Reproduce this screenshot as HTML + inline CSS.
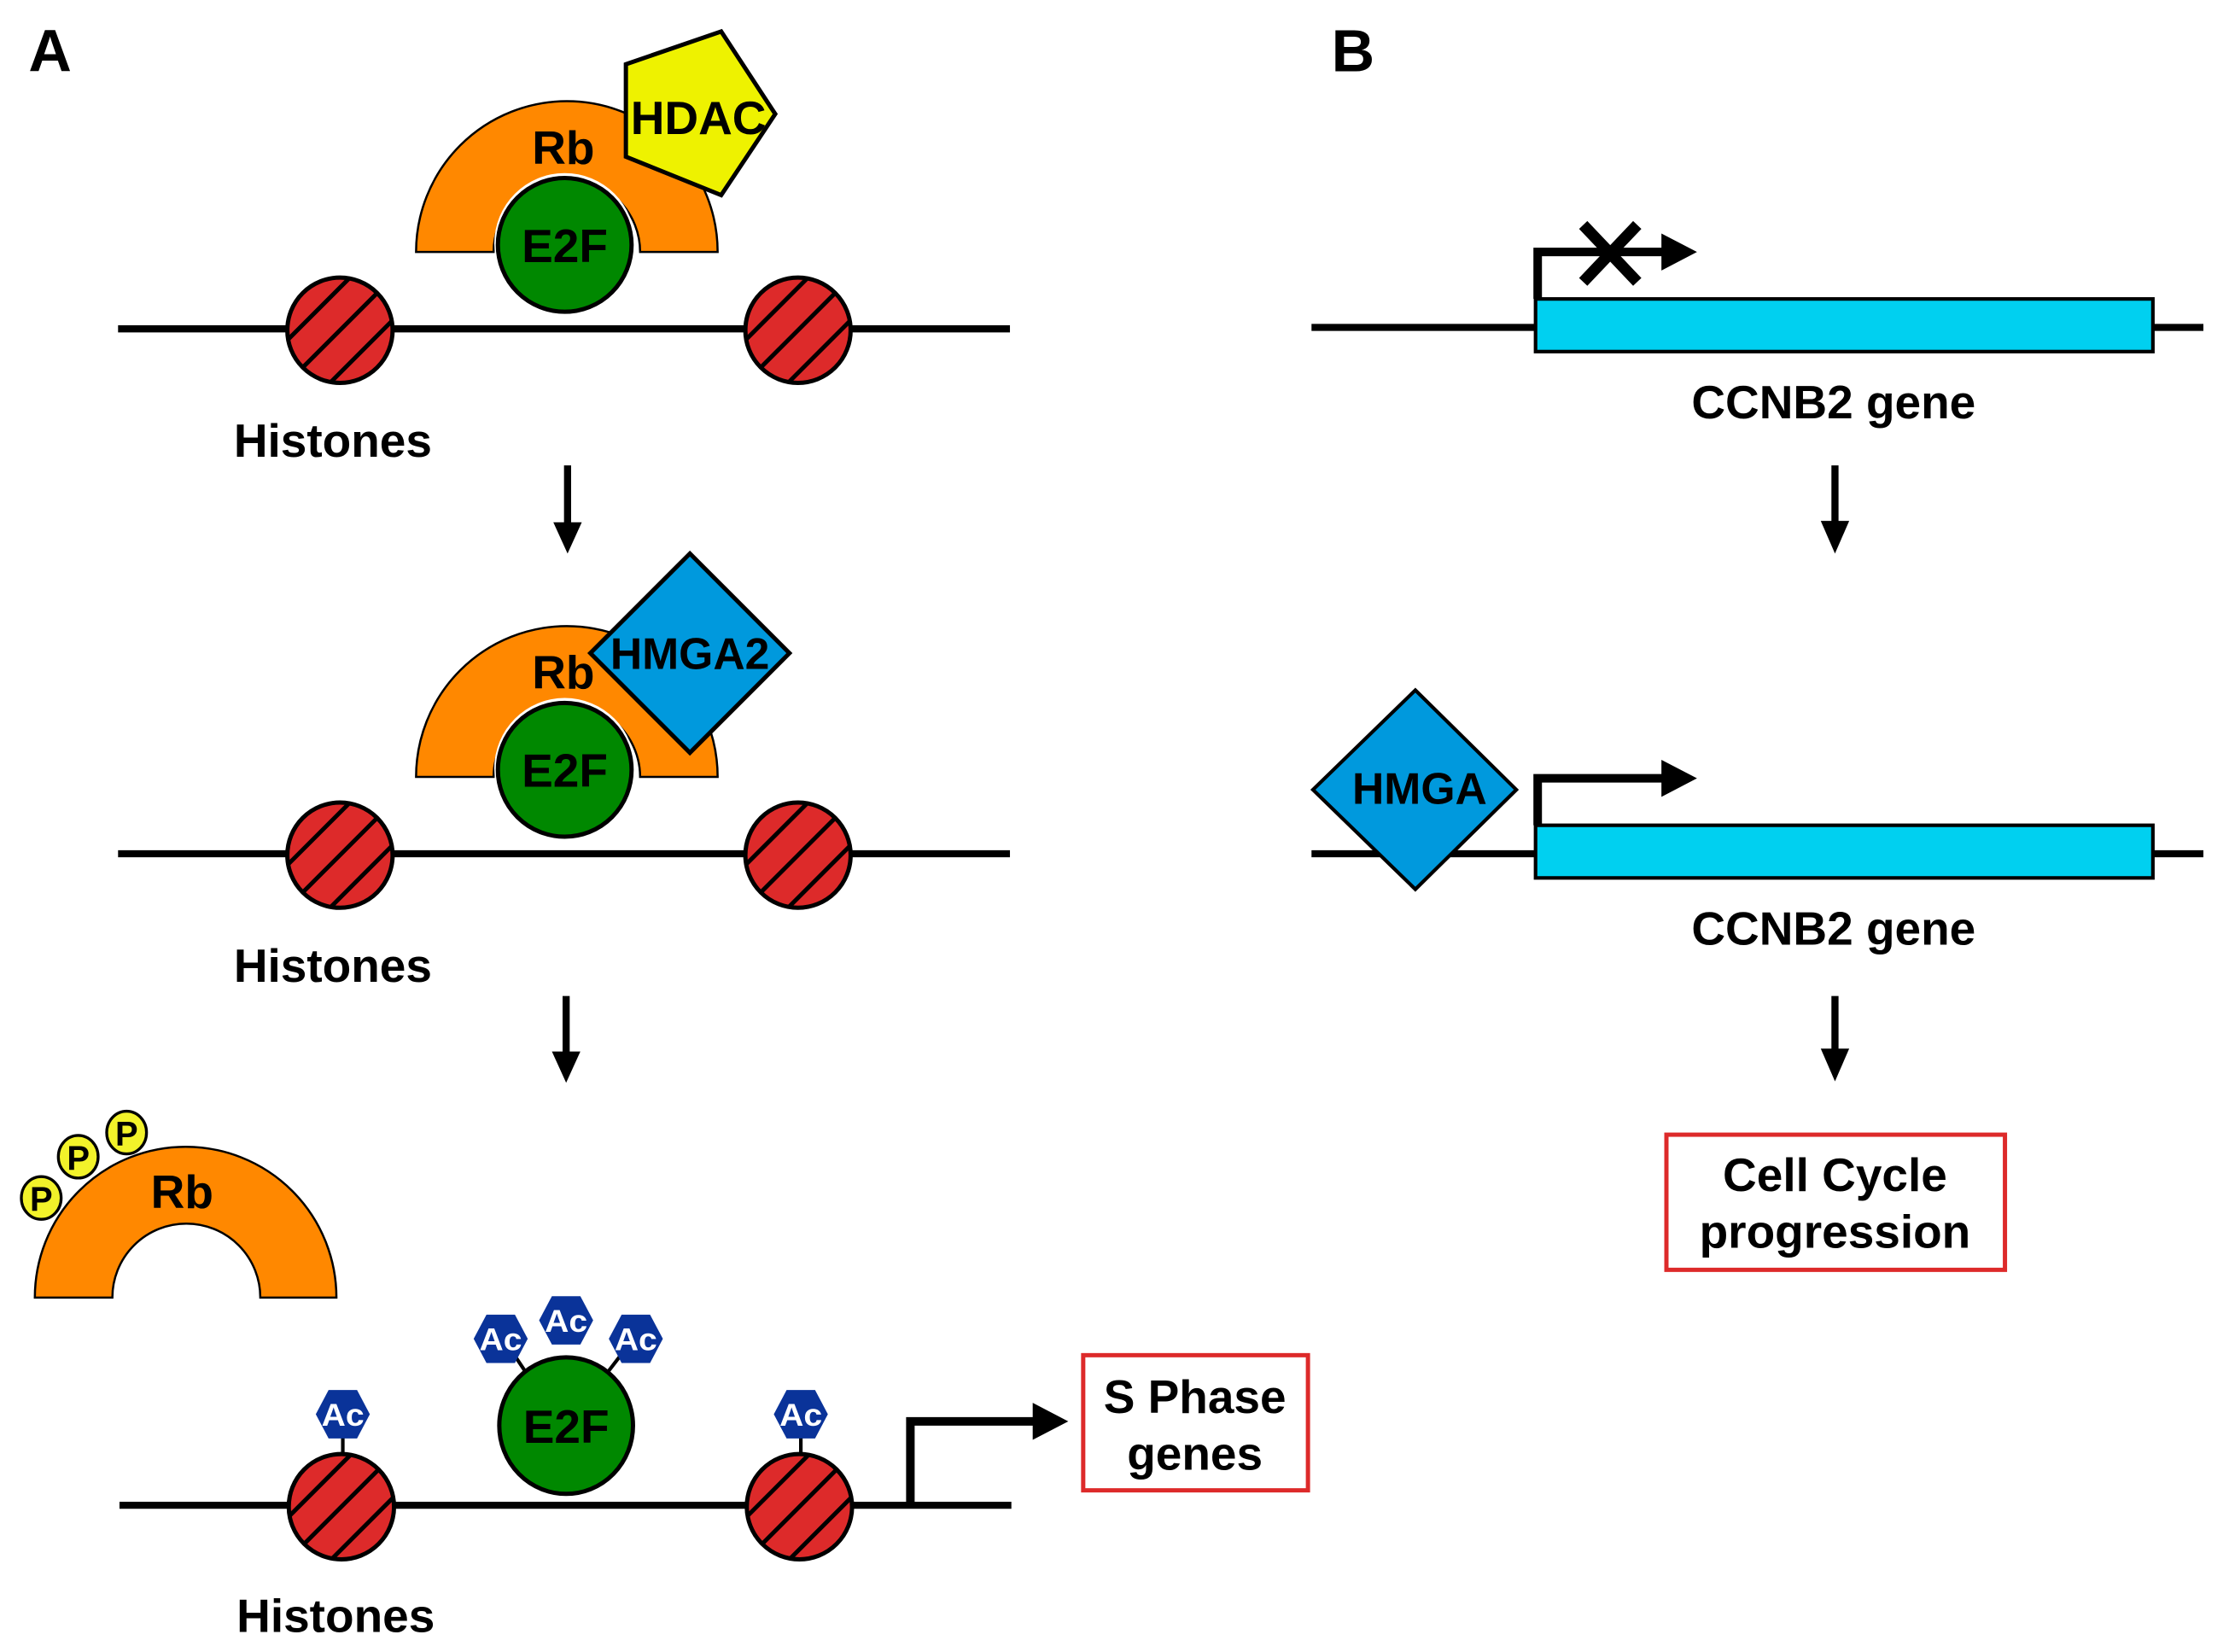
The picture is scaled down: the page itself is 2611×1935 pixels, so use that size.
<!DOCTYPE html>
<html><head><meta charset="utf-8"><style>
html,body{margin:0;padding:0;background:#fff;}
svg{display:block;}
text{font-family:"Liberation Sans",Arial,sans-serif;font-weight:bold;}
</style></head><body>
<svg width="2611" height="1935" viewBox="0 0 1567 1161" xmlns="http://www.w3.org/2000/svg">
<defs>
<clipPath id="hc"><ellipse cx="0" cy="0" rx="37" ry="37"/></clipPath>
<g id="hist">
<ellipse cx="0" cy="0" rx="37" ry="37" fill="#DD2A2A"/>
<g clip-path="url(#hc)" stroke="#000" stroke-width="3">
<line x1="-50" y1="20" x2="20" y2="-50"/>
<line x1="-40" y1="40" x2="40" y2="-40"/>
<line x1="-20" y1="50" x2="50" y2="-20"/>
</g>
<ellipse cx="0" cy="0" rx="37" ry="37" fill="none" stroke="#000" stroke-width="3"/>
</g>
<g id="ac">
<polygon points="-19,0 -10,-17 10,-17 19,0 10,17 -10,17" fill="#0A3399"/>
<text x="0" y="8" font-size="22" fill="#fff" text-anchor="middle" textLength="30" lengthAdjust="spacingAndGlyphs">Ac</text>
</g>
<g id="pp">
<ellipse cx="0" cy="0" rx="14" ry="15" fill="#F2F22A" stroke="#000" stroke-width="2"/>
<text x="0" y="9" font-size="24" fill="#000" text-anchor="middle">P</text>
</g>
</defs>

<text x="20" y="50" font-size="42">A</text>
<text x="936" y="50" font-size="42">B</text>

<!-- Row 1 A -->
<line x1="83" y1="231" x2="710" y2="231" stroke="#000" stroke-width="5"/>
<use href="#hist" x="239" y="232"/>
<use href="#hist" x="561" y="232"/>
<path d="M292.5,177 A106,106 0 0 1 504.5,177 L450,177 A51,51 0 0 0 347,177 Z" fill="#FF8800" stroke="#000" stroke-width="1.5"/>
<circle cx="397" cy="171" r="49.5" fill="#fff"/>
<circle cx="397" cy="172" r="47" fill="#008800" stroke="#000" stroke-width="3"/>
<text x="396" y="115" font-size="33" text-anchor="middle">Rb</text>
<text x="397" y="184" font-size="33" text-anchor="middle">E2F</text>
<polygon points="440,45 507,22 545,80 507,137 440,110" fill="#EEF200" stroke="#000" stroke-width="3"/>
<text x="491" y="94" font-size="33" text-anchor="middle">HDAC</text>
<text x="234" y="321" font-size="33" text-anchor="middle">Histones</text>
<line x1="399" y1="327" x2="399" y2="370" stroke="#000" stroke-width="5"/>
<polygon points="389,367 409,367 399,389"/>

<!-- Row 2 A -->
<line x1="83" y1="600" x2="710" y2="600" stroke="#000" stroke-width="5"/>
<use href="#hist" x="239" y="601"/>
<use href="#hist" x="561" y="601"/>
<path d="M292.5,546 A106,106 0 0 1 504.5,546 L450,546 A51,51 0 0 0 347,546 Z" fill="#FF8800" stroke="#000" stroke-width="1.5"/>
<circle cx="397" cy="540" r="49.5" fill="#fff"/>
<circle cx="397" cy="541" r="47" fill="#008800" stroke="#000" stroke-width="3"/>
<text x="396" y="484" font-size="33" text-anchor="middle">Rb</text>
<text x="397" y="553" font-size="33" text-anchor="middle">E2F</text>
<polygon points="485,389 555,459 485,529 415,459" fill="#0099DD" stroke="#000" stroke-width="3"/>
<text x="485" y="470" font-size="31" text-anchor="middle">HMGA2</text>
<text x="234" y="690" font-size="33" text-anchor="middle">Histones</text>
<line x1="398" y1="700" x2="398" y2="742" stroke="#000" stroke-width="5"/>
<polygon points="388,739 408,739 398,761"/>

<!-- Row 3 A -->
<path d="M24.5,912 A106,106 0 0 1 236.5,912 L183,912 A52,52 0 0 0 79,912 Z" fill="#FF8800" stroke="#000" stroke-width="1.5"/>
<text x="128" y="849" font-size="33" text-anchor="middle">Rb</text>
<use href="#pp" x="29" y="842"/>
<use href="#pp" x="55" y="813"/>
<use href="#pp" x="89" y="796"/>
<line x1="84" y1="1058" x2="711" y2="1058" stroke="#000" stroke-width="5"/>
<line x1="241" y1="1000" x2="241" y2="1022" stroke="#000" stroke-width="2.5"/>
<line x1="563" y1="1000" x2="563" y2="1022" stroke="#000" stroke-width="2.5"/>
<use href="#hist" x="240" y="1059"/>
<use href="#hist" x="562" y="1059"/>
<line x1="362" y1="953" x2="372" y2="968" stroke="#000" stroke-width="2.5"/>
<line x1="436" y1="953" x2="426" y2="966" stroke="#000" stroke-width="2.5"/>
<ellipse cx="398" cy="1002" rx="47" ry="48" fill="#008800" stroke="#000" stroke-width="3"/>
<text x="398" y="1014" font-size="33" text-anchor="middle">E2F</text>
<use href="#ac" x="352" y="941"/>
<use href="#ac" x="398" y="928"/>
<use href="#ac" x="447" y="941"/>
<use href="#ac" x="241" y="994"/>
<use href="#ac" x="563" y="994"/>
<polyline points="640,1058 640,999 730,999" fill="none" stroke="#000" stroke-width="6"/>
<polygon points="726,986 751,999 726,1012"/>
<rect x="761.5" y="952.5" width="158" height="95" fill="none" stroke="#DD2A2A" stroke-width="3"/>
<text x="840" y="993" font-size="33" text-anchor="middle">S Phase</text>
<text x="840" y="1033" font-size="33" text-anchor="middle">genes</text>
<text x="236" y="1147" font-size="33" text-anchor="middle">Histones</text>

<!-- Panel B row 1 -->
<line x1="922" y1="230" x2="1080" y2="230" stroke="#000" stroke-width="5"/>
<line x1="1514" y1="230" x2="1549" y2="230" stroke="#000" stroke-width="5"/>
<rect x="1079.5" y="210" width="434" height="37" fill="#00D0F0" stroke="#000" stroke-width="2.5"/>
<polyline points="1081,210 1081,177 1172,177" fill="none" stroke="#000" stroke-width="6"/>
<polygon points="1168,164 1193,177 1168,190"/>
<line x1="1113" y1="158" x2="1151" y2="198" stroke="#000" stroke-width="8"/>
<line x1="1151" y1="158" x2="1113" y2="198" stroke="#000" stroke-width="8"/>
<text x="1289" y="294" font-size="33" text-anchor="middle">CCNB2 gene</text>
<line x1="1290" y1="327" x2="1290" y2="369" stroke="#000" stroke-width="5"/>
<polygon points="1280,366 1300,366 1290,389"/>

<!-- Panel B row 2 -->
<line x1="922" y1="600" x2="1080" y2="600" stroke="#000" stroke-width="5"/>
<line x1="1514" y1="600" x2="1549" y2="600" stroke="#000" stroke-width="5"/>
<polygon points="995,485 1066,555 995,625 923,555" fill="#0099DD" stroke="#000" stroke-width="2.5"/>
<text x="998" y="565" font-size="31" text-anchor="middle">HMGA</text>
<rect x="1079.5" y="580" width="434" height="37" fill="#00D0F0" stroke="#000" stroke-width="2.5"/>
<polyline points="1081,580 1081,547 1172,547" fill="none" stroke="#000" stroke-width="6"/>
<polygon points="1168,534 1193,547 1168,560"/>
<text x="1289" y="664" font-size="33" text-anchor="middle">CCNB2 gene</text>
<line x1="1290" y1="700" x2="1290" y2="740" stroke="#000" stroke-width="5"/>
<polygon points="1280,737 1300,737 1290,760"/>
<rect x="1171.5" y="797.5" width="238" height="95" fill="none" stroke="#DD2A2A" stroke-width="3"/>
<text x="1290" y="837" font-size="33" text-anchor="middle">Cell Cycle</text>
<text x="1290" y="877" font-size="33" text-anchor="middle">progression</text>
</svg>
</body></html>
